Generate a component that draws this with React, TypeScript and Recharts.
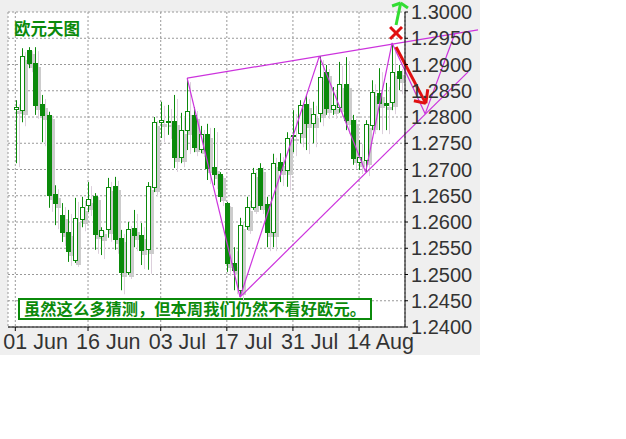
import { ComposedChart, Bar, XAxis, YAxis, CartesianGrid, ReferenceLine, Customized } from 'recharts';

const dates = [
  '01 Jun', '02 Jun', '05 Jun', '06 Jun', '07 Jun', '08 Jun', '09 Jun', '12 Jun', '13 Jun', '14 Jun', '15 Jun',
  '16 Jun', '19 Jun', '20 Jun', '21 Jun', '22 Jun', '23 Jun', '26 Jun', '27 Jun', '28 Jun', '29 Jun', '30 Jun',
  '03 Jul', '04 Jul', '05 Jul', '06 Jul', '07 Jul', '10 Jul', '11 Jul', '12 Jul', '13 Jul', '14 Jul',
  '17 Jul', '18 Jul', '19 Jul', '20 Jul', '21 Jul', '24 Jul', '25 Jul', '26 Jul', '27 Jul', '28 Jul',
  '31 Jul', '01 Aug', '02 Aug', '03 Aug', '04 Aug', '07 Aug', '08 Aug', '09 Aug', '10 Aug', '11 Aug',
  '14 Aug', '15 Aug', '16 Aug', '17 Aug', '18 Aug', '21 Aug', '22 Aug',
];

const opens = [
  1.2816, 1.2813, 1.2928, 1.2903, 1.2825, 1.2804, 1.2653, 1.2613, 1.2581, 1.2528, 1.2606,
  1.2632, 1.2650, 1.2573, 1.2587, 1.2669, 1.2570, 1.2505, 1.2589, 1.2575, 1.2549, 1.2667,
  1.2791, 1.2792, 1.2792, 1.2724, 1.2775, 1.2804, 1.2739, 1.2768, 1.2705, 1.2691,
  1.2636, 1.2522, 1.2470, 1.2592, 1.2629, 1.2703, 1.2634, 1.2581, 1.2714, 1.2699,
  1.2766, 1.2770, 1.2825, 1.2789, 1.2808, 1.2886, 1.2815, 1.2819, 1.2863, 1.2794,
  1.2714, 1.2718, 1.2785, 1.2846, 1.2827, 1.2829, 1.2888,
];

const highs = [
  1.2832, 1.2931, 1.2933, 1.2933, 1.2842, 1.2810, 1.2670, 1.2636, 1.2623, 1.2646, 1.2648,
  1.2676, 1.2655, 1.2590, 1.2684, 1.2686, 1.2585, 1.2600, 1.2623, 1.2598, 1.2676, 1.2800,
  1.2829, 1.2823, 1.2842, 1.2808, 1.2874, 1.2819, 1.2783, 1.2787, 1.2779, 1.2695,
  1.2638, 1.2552, 1.2608, 1.2648, 1.2703, 1.2712, 1.2648, 1.2730, 1.2731, 1.2771,
  1.2813, 1.2832, 1.2842, 1.2829, 1.2916, 1.2899, 1.2857, 1.2905, 1.2914, 1.2804,
  1.2756, 1.2794, 1.2870, 1.2893, 1.2865, 1.2941, 1.2899,
];

const lows = [
  1.2712, 1.2790, 1.2893, 1.2804, 1.2752, 1.2627, 1.2594, 1.2562, 1.2524, 1.2522, 1.2590,
  1.2619, 1.2547, 1.2537, 1.2570, 1.2547, 1.2470, 1.2499, 1.2552, 1.2518, 1.2509, 1.2657,
  1.2760, 1.2766, 1.2703, 1.2712, 1.2737, 1.2733, 1.2731, 1.2680, 1.2670, 1.2638,
  1.2505, 1.2470, 1.2457, 1.2585, 1.2623, 1.2623, 1.2552, 1.2552, 1.2676, 1.2667,
  1.2733, 1.2750, 1.2737, 1.2750, 1.2790, 1.2804, 1.2804, 1.2808, 1.2775, 1.2709,
  1.2699, 1.2695, 1.2775, 1.2775, 1.2775, 1.2813, 1.2851,
];

const closes = [
  1.2819, 1.2916, 1.2903, 1.2823, 1.2804, 1.2651, 1.2636, 1.2581, 1.2545, 1.2608, 1.2629,
  1.2644, 1.2577, 1.2585, 1.2667, 1.2568, 1.2505, 1.2587, 1.2575, 1.2547, 1.2669, 1.2790,
  1.2795, 1.2790, 1.2724, 1.2775, 1.2811, 1.2743, 1.2768, 1.2703, 1.2691, 1.2650,
  1.2522, 1.2509, 1.2594, 1.2629, 1.2693, 1.2632, 1.2581, 1.2712, 1.2699, 1.2760,
  1.2764, 1.2823, 1.2789, 1.2806, 1.2876, 1.2817, 1.2823, 1.2863, 1.2794, 1.2722,
  1.2724, 1.2787, 1.2848, 1.2827, 1.2823, 1.2886, 1.2874,
];

const tickDates = ['01 Jun', '16 Jun', '03 Jul', '17 Jul', '31 Jul', '14 Aug'];
const priceTicks = [1.24, 1.245, 1.25, 1.255, 1.26, 1.265, 1.27, 1.275, 1.28, 1.285, 1.29, 1.295, 1.3];

// annotation points as [bar index, price]
const zigzag = [[26, 1.2874], [34, 1.2457], [46, 1.2916], [53, 1.2695], [57, 1.2941], [62, 1.2806], [66.5, 1.2959]];
const upperTrend = [[26, 1.2874], [70, 1.2966]];
const lowerTrend = [[34, 1.2457], [68.5, 1.2886]];
const redCross = [
  [[56.7, 1.29714], [58.5, 1.29486]],
  [[58.5, 1.29714], [56.7, 1.29486]],
];
const redArrow = [
  [[57.6, 1.29333], [62.1, 1.2826]],
  [[62.1, 1.2826], [60.3, 1.2831]],
  [[62.1, 1.2826], [62.4, 1.2853]],
];
const greenArrow = [
  [[57.6, 1.29752], [58.3, 1.30171]],
  [[58.3, 1.30171], [57.0, 1.30114]],
  [[58.3, 1.30171], [59.4, 1.30076]],
];

const data = dates.map((date, i) => ({
  date,
  idx: i,
  open: opens[i],
  high: highs[i],
  low: lows[i],
  close: closes[i],
}));

const GREEN = '#0b8a0b';
const PURPLE = '#cc33dd';

function Candle(props: any) {
  const { x, y, width, height, payload } = props;
  const top = Math.min(y, y + height);
  const bottom = Math.max(y, y + height);
  const span = payload.high - payload.low;
  const py = (p: number) => top + ((payload.high - p) / span) * (bottom - top);
  const c = Math.round(x + width / 2);
  const up = payload.close >= payload.open;
  const bTop = Math.round(py(Math.max(payload.open, payload.close)));
  const bBot = Math.round(py(Math.min(payload.open, payload.close)));
  const bh = Math.max(1, bBot - bTop);
  return (
    <g>
      <line x1={c + 3.5} x2={c + 3.5} y1={top + 4} y2={bottom + 4} stroke="#dcd0dc" />
      <rect x={c + 1} y={bTop + 4} width={5} height={bh + 1} fill="#cccccc" />
      <line x1={c + 0.5} x2={c + 0.5} y1={top} y2={bottom} stroke={GREEN} />
      <rect x={c - 1.5} y={bTop + 0.5} width={4} height={bh} fill={up ? '#fff' : GREEN} stroke={GREEN} />
    </g>
  );
}

function DateTick(props: any) {
  const { x, y, payload } = props;
  return (
    <text x={x - 12} y={y} dy="0.71em" textAnchor="start" fill="#333" fontSize={21.5} fontFamily="Liberation Sans, Arial">
      {payload.value}
    </text>
  );
}

function Notes() {
  return (
    <g>
      <text x={14} y={35} fill={GREEN} fontSize={16.5} fontWeight="bold" fontFamily="Noto Sans CJK SC">
        欧元天图
      </text>
      <rect x={19} y={299} width={352} height={20} fill="#fff" stroke={GREEN} strokeWidth={2} />
      <text x={195} y={315} textAnchor="middle" fill={GREEN} fontSize={16.3} fontWeight="bold" fontFamily="Noto Sans CJK SC">
        虽然这么多猜测，但本周我们仍然不看好欧元。
      </text>
    </g>
  );
}

const seg = (pts: number[][]) => pts.map(([i, p]) => ({ x: i, y: p }));

export default function App() {
  const purpleSegs: number[][][] = [];
  for (let k = 0; k < zigzag.length - 1; k++) purpleSegs.push([zigzag[k], zigzag[k + 1]]);
  purpleSegs.push(upperTrend, lowerTrend);

  return (
    <div style={{ position: 'absolute', left: 0, top: 0, width: 480, height: 355, background: '#efefef' }}>
      <ComposedChart width={480} height={355} data={data} margin={{ top: 12, right: 0, bottom: 0, left: 8 }}>
        <CartesianGrid fill="#fff" stroke="#999" strokeDasharray="2 2" />
        <XAxis
          dataKey="date"
          ticks={tickDates}
          interval={0}
          padding={{ left: 4, right: 3 }}
          height={28}
          tickSize={4}
          tickMargin={3}
          axisLine={{ stroke: '#000' }}
          tickLine={{ stroke: '#000' }}
          tick={DateTick}
        />
        <XAxis xAxisId="top" dataKey="date" orientation="top" height={0} tick={false} tickLine={false} axisLine={{ stroke: '#000' }} />
        <XAxis xAxisId="idx" dataKey="idx" type="number" domain={[-0.5, 58.5]} padding={{ left: 4, right: 3 }} allowDataOverflow hide />
        <YAxis
          orientation="right"
          domain={[1.24, 1.3]}
          ticks={priceTicks}
          interval={0}
          width={75}
          tickSize={3}
          tickMargin={3}
          allowDataOverflow
          tickFormatter={(v: number) => v.toFixed(4)}
          axisLine={{ stroke: '#000' }}
          tickLine={{ stroke: '#000' }}
          tick={{ fill: '#333', fontSize: 20, fontFamily: 'Liberation Sans, Arial' }}
        />
        <YAxis yAxisId="left" orientation="left" domain={[1.24, 1.3]} width={0} tick={false} tickLine={false} axisLine={{ stroke: '#000' }} />
        <Bar dataKey={(d: any) => [d.low, d.high]} barSize={5} shape={Candle} isAnimationActive={false} />
        {purpleSegs.map((s, k) => (
          <ReferenceLine key={`p${k}`} xAxisId="idx" segment={seg(s)} stroke={PURPLE} strokeWidth={1.2} ifOverflow="visible" />
        ))}
        {redArrow.map((s, k) => (
          <ReferenceLine key={`ra${k}`} xAxisId="idx" segment={seg(s)} stroke="#e01010" strokeWidth={3} ifOverflow="visible" />
        ))}
        {redCross.map((s, k) => (
          <ReferenceLine key={`rx${k}`} xAxisId="idx" segment={seg(s)} stroke="#e01010" strokeWidth={3} ifOverflow="visible" />
        ))}
        {greenArrow.map((s, k) => (
          <ReferenceLine key={`g${k}`} xAxisId="idx" segment={seg(s)} stroke="#33dd33" strokeWidth={3} ifOverflow="visible" />
        ))}
        <Customized component={Notes} />
      </ComposedChart>
    </div>
  );
}
